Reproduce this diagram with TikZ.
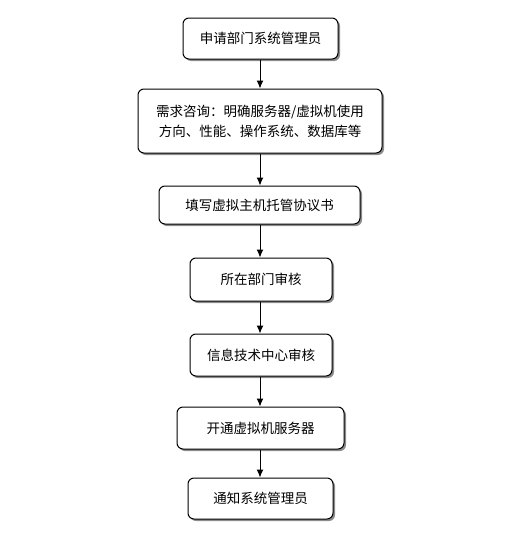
\documentclass[tikz,border=0pt]{standalone}
\usepackage{fontspec}
\setmainfont{Noto Sans CJK SC}
\usepackage{tikz}
\usetikzlibrary{arrows.meta,shadows}

\tikzset{
  stepbox/.style={draw=black, line width=1pt, rounded corners=6pt, fill=white,
    drop shadow={shadow xshift=2pt, shadow yshift=-2pt, fill=gray!90, opacity=1},
    inner sep=0pt, align=center, font=\fontsize{13.5}{20}\selectfont},
  flow/.style={-{Latex[length=8pt,width=7pt]}, line width=1pt}
}

\begin{document}
\begin{tikzpicture}[x=1pt,y=-1pt]
            \useasboundingbox (0,0) rectangle (516,549);
            \node[stepbox, minimum width=155pt, minimum height=41pt] (apply) at (260.5,38.5) {申请部门系统管理员};
            \node[stepbox, minimum width=244pt, minimum height=64pt] (consult) at (260,121) {需求咨询：明确服务器/虚拟机使用\\方向、性能、操作系统、数据库等};
            \node[stepbox, minimum width=201pt, minimum height=38pt] (form) at (259.5,205) {填写虚拟主机托管协议书};
            \node[stepbox, minimum width=142pt, minimum height=43pt] (dept) at (261,279.5) {所在部门审核};
            \node[stepbox, minimum width=142pt, minimum height=42pt] (itc) at (261,355) {信息技术中心审核};
            \node[stepbox, minimum width=167pt, minimum height=42pt] (open) at (260.5,428) {开通虚拟机服务器};
            \node[stepbox, minimum width=145pt, minimum height=41pt] (notify) at (260.5,498.5) {通知系统管理员};
            \draw[flow] (apply.south -| 260,0) -- (consult.north -| 260,0);
            \draw[flow] (consult.south -| 260,0) -- (form.north -| 260,0);
            \draw[flow] (form.south -| 260,0) -- (dept.north -| 260,0);
            \draw[flow] (dept.south -| 260,0) -- (itc.north -| 260,0);
            \draw[flow] (itc.south -| 260,0) -- (open.north -| 260,0);
            \draw[flow] (open.south -| 260,0) -- (notify.north -| 260,0);
        \end{tikzpicture}
\end{document}
